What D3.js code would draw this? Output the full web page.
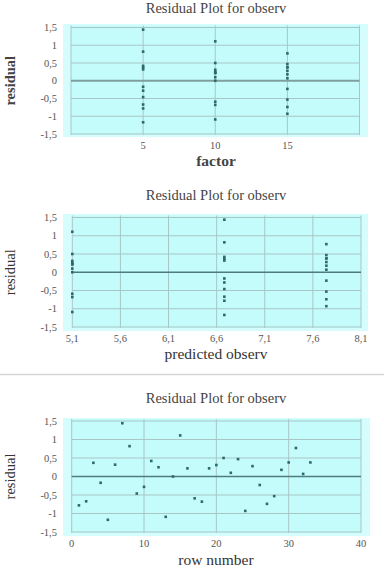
<!DOCTYPE html>
<html>
<head>
<meta charset="utf-8">
<script src="https://d3js.org/d3.v7.min.js"></script>
<style>
  body { margin: 0; background: #fff; }
  svg { display: block; }
  text { font-family: "Liberation Serif", "DejaVu Serif", serif; }
</style>
</head>
<body>
<div id="chart"></div>
<script>
    // data
    var rowNumber = [1, 2, 3, 4, 5, 6, 7, 8, 9, 10, 11, 12, 13, 14, 15, 16, 17, 18, 19, 20, 21, 22,
        23, 24, 25, 26, 27, 28, 29, 30, 31, 32, 33];
    var factor = [5, 5, 5, 5, 5, 5, 5, 5, 5, 5, 5,
        10, 10, 10, 10, 10, 10, 10, 10, 10, 10, 10,
        15, 15, 15, 15, 15, 15, 15, 15, 15, 15, 15];
    var predicted = [6.68, 6.68, 6.68, 6.68, 6.68, 6.68, 6.68, 6.68, 6.68, 6.68, 6.68,
        5.1, 5.1, 5.1, 5.1, 5.1, 5.1, 5.1, 5.1, 5.1, 5.1, 5.1,
        7.74, 7.74, 7.74, 7.74, 7.74, 7.74, 7.74, 7.74, 7.74, 7.74, 7.74];
    var residual = [-0.78, -0.67, 0.37, -0.17, -1.17, 0.32, 1.44, 0.82, -0.46, -0.28, 0.42,
        0.25, -1.09, 0.0, 1.11, 0.22, -0.59, -0.68, 0.22, 0.31, 0.5, 0.1,
        0.47, -0.93, 0.28, -0.23, -0.74, -0.53, 0.18, 0.38, 0.77, 0.07, 0.38];

    var yTicks = [-1.5, -1, -0.5, 0, 0.5, 1, 1.5];
    var factorTicks = [5, 10, 15];
    var predTicks = [5.1, 5.6, 6.1, 6.6, 7.1, 7.6, 8.1];
    var rowTicks = [0, 10, 20, 30, 40];

    var title = "Residual Plot for observ";
    var fmt = function (v) { return String(v).replace(".", ","); };

    var svg = d3.select("#chart").append("svg")
        .attr("width", 384)
        .attr("height", 568);

    // separator between 2nd and 3rd chart
    svg.append("line")
        .attr("x1", 0).attr("x2", 384)
        .attr("y1", 374.5).attr("y2", 374.5)
        .attr("stroke", "#d6d6d6").attr("stroke-width", 1.5);

    function panel(cfg) {
        var x = d3.scaleLinear().domain(cfg.xDomain).range([cfg.left, cfg.right]);
        var y = d3.scaleLinear().domain([-1.5, 1.5]).range([cfg.bottom, cfg.top]);
        var g = svg.append("g");

        // background
        g.append("rect")
            .attr("x", 63).attr("y", cfg.bgTop)
            .attr("width", cfg.bgRight - 63).attr("height", cfg.bgBottom - cfg.bgTop)
            .attr("fill", "#d6fdfd");
        g.append("rect")
            .attr("x", cfg.left).attr("y", cfg.top - 2)
            .attr("width", cfg.right - cfg.left).attr("height", cfg.bottom - cfg.top + 3)
            .attr("fill", "#c4fcfc");

        // horizontal grid
        g.selectAll(".hg").data(yTicks.filter(function (d) { return d !== 0; }))
            .enter().append("line")
            .attr("x1", cfg.left).attr("x2", cfg.right)
            .attr("y1", function (d) { return y(d); })
            .attr("y2", function (d) { return y(d); })
            .attr("stroke", "#a9c6c6").attr("stroke-width", 1);

        // vertical grid
        var vlines = cfg.gridX.concat(cfg.xDomain);
        g.selectAll(".vg").data(vlines)
            .enter().append("line")
            .attr("x1", function (d) { return x(d); })
            .attr("x2", function (d) { return x(d); })
            .attr("y1", cfg.top - 2).attr("y2", cfg.bottom + 1)
            .attr("stroke", "#a9c6c6").attr("stroke-width", 1);

        // zero line
        g.append("line")
            .attr("x1", cfg.left).attr("x2", cfg.right)
            .attr("y1", y(0)).attr("y2", y(0))
            .attr("stroke", cfg.zeroColor).attr("stroke-width", cfg.zeroWidth);

        // y tick labels
        g.selectAll(".yt").data(yTicks)
            .enter().append("text")
            .attr("x", 57)
            .attr("y", function (d) { return y(d) + 3.5; })
            .attr("text-anchor", "end")
            .attr("font-size", 10.5)
            .attr("fill", "#555")
            .text(fmt);

        // x tick labels
        g.selectAll(".xt").data(cfg.xTicks)
            .enter().append("text")
            .attr("x", function (d) { return x(d); })
            .attr("y", cfg.bottom + 15)
            .attr("text-anchor", "middle")
            .attr("font-size", 10.5)
            .attr("fill", "#555")
            .text(fmt);

        // points
        g.selectAll(".pt").data(cfg.xs)
            .enter().append("rect")
            .attr("x", function (d) { return x(d) - 1.3; })
            .attr("y", function (d, i) { return y(residual[i]) - 1.3; })
            .attr("width", 2.6).attr("height", 2.6)
            .attr("fill", "#2e6868");

        // titles
        g.append("text")
            .attr("x", 216).attr("y", cfg.titleY)
            .attr("text-anchor", "middle")
            .attr("font-size", 14.5)
            .attr("fill", "#444")
            .text(title);
        g.append("text")
            .attr("x", 216).attr("y", cfg.xTitleY)
            .attr("text-anchor", "middle")
            .attr("font-size", 15.5)
            .attr("font-weight", cfg.bold ? "bold" : "normal")
            .attr("fill", cfg.bold ? "#444" : "#333")
            .text(cfg.xTitle);
        g.append("text")
            .attr("transform", "translate(15," + ((cfg.top + cfg.bottom) / 2) + ") rotate(-90)")
            .attr("text-anchor", "middle")
            .attr("font-size", 14.5)
            .attr("font-weight", cfg.bold ? "bold" : "normal")
            .attr("fill", cfg.bold ? "#444" : "#333")
            .text("residual");
    }

    panel({
        xs: factor, xDomain: [0, 20], xTicks: factorTicks, gridX: factorTicks,
        left: 71, right: 359.5, top: 27.5, bottom: 134,
        bgTop: 24, bgBottom: 137, bgRight: 368,
        titleY: 12.5, xTitleY: 166, xTitle: "factor", bold: true,
        zeroColor: "#7f9f9f", zeroWidth: 2
    });

    panel({
        xs: predicted, xDomain: [5.1, 8.1], xTicks: predTicks, gridX: predTicks.slice(1, -1),
        left: 72.3, right: 361, top: 217.5, bottom: 327,
        bgTop: 214, bgBottom: 331, bgRight: 368,
        titleY: 199.5, xTitleY: 359, xTitle: "predicted observ", bold: false,
        zeroColor: "#4f7b7b", zeroWidth: 1.3
    });

    panel({
        xs: rowNumber, xDomain: [0, 40], xTicks: rowTicks, gridX: [10, 20, 30],
        left: 71.7, right: 361, top: 421, bottom: 532,
        bgTop: 418, bgBottom: 536, bgRight: 370,
        titleY: 402.5, xTitleY: 565, xTitle: "row number", bold: false,
        zeroColor: "#4f7b7b", zeroWidth: 1.3
    });
</script>
</body>
</html>
